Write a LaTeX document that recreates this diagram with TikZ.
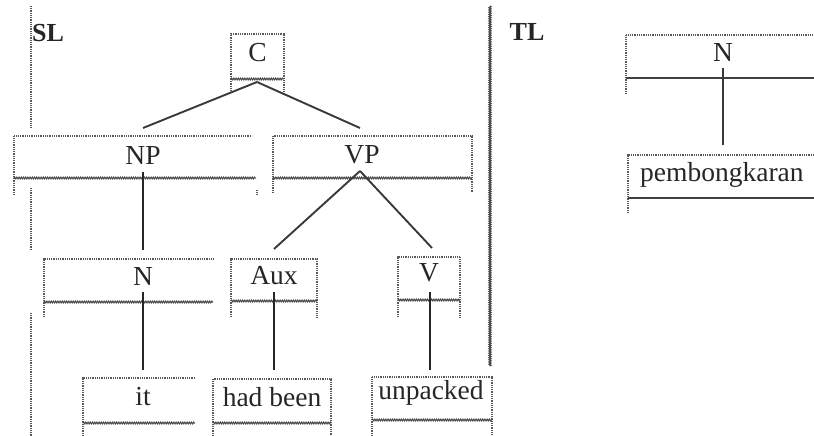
\documentclass[tikz,border=0pt]{standalone}
\usepackage{fontspec}
\setmainfont{Liberation Serif}
\usetikzlibrary{decorations.pathmorphing}
\begin{document}
\begin{tikzpicture}[x=1pt,y=-1pt,
  dotln/.style={draw=gray!70!black, line width=1.4pt, dash pattern=on 1pt off 0.8pt},
  wavy/.style={draw=gray!55!black, line width=1pt, decorate, decoration={snake, amplitude=0.9pt, segment length=2.2pt}},
  branch/.style={draw=gray!45!black, line width=1.9pt},
  stem/.style={draw=black!85, line width=1.5pt},
  lbl/.style={inner sep=0pt, text=black!85, font=\fontsize{27.5}{32}\selectfont},
  head/.style={inner sep=0pt, text=black!85, font=\fontsize{26}{30}\selectfont\bfseries}]
\useasboundingbox (0,0) rectangle (814,436);

% outer frames
\draw[dotln] (31,6) -- (31,128);
\draw[dotln] (31,188) -- (31,250);
\draw[dotln] (31,313) -- (31,436);
\draw[wavy, line width=1.3pt] (490,6) -- (490,366);

\node[head] (SL) at (48,33) {SL};
\node[head] (TL) at (527,32) {TL};

% C box
\draw[dotln] (231,79) -- (231,34) -- (284,34) -- (284,91);
\draw[dotln] (231,79) -- (231,91);
\draw[wavy] (231,79) -- (284,79);
\node[lbl] (C) at (257.5,53) {C};

% NP box
\draw[dotln] (14,195) -- (14,136) -- (252,136);
\draw[wavy] (14,178) -- (256,178);
\draw[dotln] (257,190) -- (257,195);
\node[lbl] (NP) at (143,155) {NP};

% VP box
\draw[dotln] (273,193) -- (273,136) -- (472,136) -- (472,193);
\draw[wavy] (273,178) -- (472,178);
\node[lbl] (VP) at (362,155) {VP};

% N box (SL)
\draw[dotln] (44,317) -- (44,259) -- (213,259);
\draw[wavy] (44,302) -- (213,302);
\node[lbl] (N) at (143,276) {N};

% Aux box
\draw[dotln] (231,317) -- (231,259) -- (317,259) -- (317,317);
\draw[wavy] (231,301) -- (317,301);
\node[lbl] (Aux) at (274,276) {Aux};

% V box
\draw[dotln] (398,317) -- (398,257) -- (460,257) -- (460,317);
\draw[wavy] (398,300) -- (460,300);
\node[lbl] (V) at (429,273) {V};

% it box
\draw[dotln] (83,436) -- (83,378) -- (195,378);
\draw[wavy] (83,423) -- (195,423);
\node[lbl] (it) at (143,397) {it};

% had been box
\draw[dotln] (213,436) -- (213,379) -- (331,379) -- (331,436);
\draw[wavy] (213,423) -- (331,423);
\node[lbl] (had) at (272,397) {had been};

% unpacked box
\draw[dotln] (372,436) -- (372,377) -- (492,377) -- (492,436);
\draw[wavy] (372,420) -- (492,420);
\node[lbl] (unp) at (431,393) {unpacked};

% TL N box
\draw[dotln] (626,94) -- (626,35) -- (814,35);
\draw[draw=gray!50!black, line width=1.4pt] (626,78) -- (814,78);
\node[lbl] (TN) at (723,52) {N};

% pembongkaran box
\draw[dotln] (628,213) -- (628,155) -- (814,155);
\draw[draw=gray!50!black, line width=1.4pt] (628,198) -- (814,198);
\node[lbl, anchor=west] (pemb) at (640,175) {pembongkaran};

% connector ends
\coordinate (C-b) at (257,82);
\coordinate (NP-t) at (143,128);
\coordinate (VP-t) at (360,128);
\coordinate (NP-b) at (143,172);
\coordinate (VP-b) at (360,171);
\coordinate (N-t) at (143,250);
\coordinate (Aux-t) at (274,249);
\coordinate (V-t) at (432,248);
\coordinate (N-b) at (143,292);
\coordinate (Aux-b) at (274,292);
\coordinate (V-b) at (430,292);
\coordinate (it-t) at (143,370);
\coordinate (had-t) at (274,370);
\coordinate (unp-t) at (430,370);
\coordinate (TN-b) at (723,68);
\coordinate (pemb-t) at (723,145);

\draw[branch] (C-b) -- (NP-t);
\draw[branch] (C-b) -- (VP-t);
\draw[branch] (VP-b) -- (Aux-t);
\draw[branch] (VP-b) -- (V-t);
\draw[stem] (NP-b) -- (N-t);
\draw[stem] (N-b) -- (it-t);
\draw[stem] (Aux-b) -- (had-t);
\draw[stem] (V-b) -- (unp-t);
\draw[branch] (TN-b) -- (pemb-t);
\end{tikzpicture}
\end{document}
